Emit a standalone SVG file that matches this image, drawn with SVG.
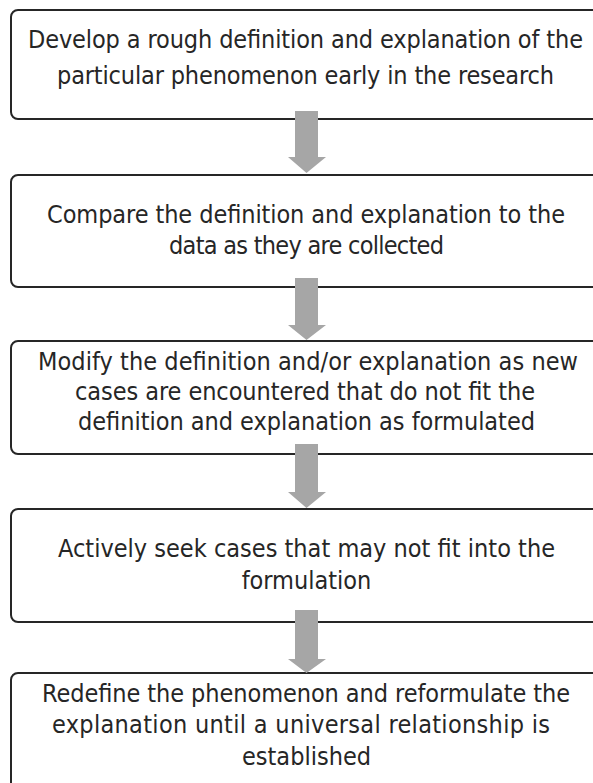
<svg xmlns="http://www.w3.org/2000/svg" width="593" height="783" viewBox="0 0 593 783">
  <style>
    .box { fill: #ffffff; stroke: #262626; stroke-width: 2; }
    .lbl { font-family: "DejaVu Sans Condensed", "DejaVu Sans", sans-serif; font-stretch: condensed; font-size: 25px; fill: #262626; text-anchor: middle; }
    .arrow { fill: #a6a6a6; stroke: none; }
  </style>
  <rect width="593" height="783" fill="#ffffff"/>

  <g id="step1">
    <rect class="box" x="11" y="10" width="600" height="109" rx="7"/>
    <text class="lbl" x="305.5" y="48" textLength="555">Develop a rough definition and explanation of the</text>
    <text class="lbl" x="305.5" y="84" textLength="497">particular phenomenon early in the research</text>
  </g>

  <g id="step2">
    <rect class="box" x="11" y="175" width="600" height="112" rx="7"/>
    <text class="lbl" x="306" y="223" textLength="518">Compare the definition and explanation to the</text>
    <text class="lbl" x="306.5" y="254" textLength="275">data as they are collected</text>
  </g>

  <g id="step3">
    <rect class="box" x="11" y="341" width="600" height="113" rx="7"/>
    <text class="lbl" x="308" y="370" textLength="540">Modify the definition and/or explanation as new</text>
    <text class="lbl" x="305" y="400" textLength="460">cases are encountered that do not fit the</text>
    <text class="lbl" x="306.5" y="430" textLength="457">definition and explanation as formulated</text>
  </g>

  <g id="step4">
    <rect class="box" x="11" y="509" width="600" height="113" rx="7"/>
    <text class="lbl" x="306.5" y="557" textLength="497">Actively seek cases that may not fit into the</text>
    <text class="lbl" x="306.5" y="589">formulation</text>
  </g>

  <g id="step5">
    <rect class="box" x="11" y="673" width="600" height="130" rx="7"/>
    <text class="lbl" x="306" y="702" textLength="528">Redefine the phenomenon and reformulate the</text>
    <text class="lbl" x="301" y="733" textLength="498">explanation until a universal relationship is</text>
    <text class="lbl" x="306.5" y="765">established</text>
  </g>

  <!-- block arrows between steps -->
  <g id="connectors">
    <polygon class="arrow" points="295,111 318,111 318,157 326,157 306.5,173 288,157 295,157"/>
    <polygon class="arrow" points="295,278 318,278 318,325 326,325 306.5,340 288,325 295,325"/>
    <polygon class="arrow" points="295,444 318,444 318,492 326,492 306.5,508 288,492 295,492"/>
    <polygon class="arrow" points="295,610 318,610 318,659 326,659 306.5,673 288,659 295,659"/>
  </g>
</svg>
